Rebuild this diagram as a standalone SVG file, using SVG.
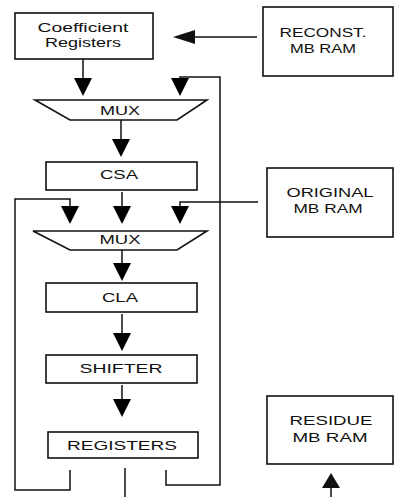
<svg xmlns="http://www.w3.org/2000/svg" width="395" height="497" viewBox="0 0 395 497">
<style>
.box{fill:#fff;stroke:#111;stroke-width:1.6}
.ln{fill:none;stroke:#111;stroke-width:1.5}
.hd{fill:#111;stroke:none}
text{font-family:"Liberation Sans",Arial,sans-serif;font-size:13px;fill:#111;text-anchor:middle}
</style>
<defs>
<polygon id="dn" points="-9,0 9,0 0,18"/>
</defs>
<rect width="395" height="497" fill="#fff"/>
<g id="connectors">
<line class="ln" x1="257" y1="37" x2="192" y2="37"/>
<polygon class="hd" points="173,37 195,30 195,44"/>
<line class="ln" x1="83" y1="59" x2="83" y2="80"/>
<use href="#dn" x="83" y="78"/>
<polyline class="ln" points="166,470 166,485 220,485 220,77 180,77 180,80"/>
<use href="#dn" x="180" y="78"/>
<line class="ln" x1="121" y1="120" x2="121" y2="140"/>
<use href="#dn" x="121" y="139"/>
<polyline class="ln" points="70,470 70,490 15,490 15,199 70,199 70,209"/>
<use href="#dn" x="70" y="206"/>
<line class="ln" x1="122" y1="192" x2="122" y2="209"/>
<use href="#dn" x="122" y="206"/>
<polyline class="ln" points="258,202 180,202 180,209"/>
<use href="#dn" x="180" y="206"/>
<line class="ln" x1="122" y1="250" x2="122" y2="265"/>
<use href="#dn" x="122" y="263"/>
<line class="ln" x1="122" y1="314" x2="122" y2="335"/>
<use href="#dn" x="122" y="333"/>
<line class="ln" x1="122" y1="385" x2="122" y2="400"/>
<use href="#dn" x="122" y="399"/>
<line class="ln" x1="125" y1="468" x2="125" y2="497"/>
<line class="ln" x1="331" y1="497" x2="331" y2="485"/>
<polygon class="hd" points="331,473 322,488 340,488"/>
</g>
<g id="coef">
<rect class="box" x="15" y="13" width="138" height="46"/>
<text x="83" y="32" textLength="91" lengthAdjust="spacingAndGlyphs">Coefficient</text>
<text x="83" y="47" textLength="76" lengthAdjust="spacingAndGlyphs">Registers</text>
</g>
<g id="reconst">
<rect class="box" x="263" y="7" width="130" height="69"/>
<text x="323" y="37" textLength="87" lengthAdjust="spacingAndGlyphs">RECONST.</text>
<text x="323" y="53" textLength="66" lengthAdjust="spacingAndGlyphs">MB RAM</text>
</g>
<g id="mux1">
<polygon class="box" points="35,100 207,100 177,120 70,120"/>
<text x="120" y="115" textLength="40" lengthAdjust="spacingAndGlyphs">MUX</text>
</g>
<g id="csa">
<rect class="box" x="46" y="162" width="151" height="28"/>
<text x="119" y="179" textLength="38" lengthAdjust="spacingAndGlyphs">CSA</text>
</g>
<g id="original">
<rect class="box" x="267" y="168" width="126" height="69"/>
<text x="330" y="197" textLength="87" lengthAdjust="spacingAndGlyphs">ORIGINAL</text>
<text x="328" y="213" textLength="69" lengthAdjust="spacingAndGlyphs">MB RAM</text>
</g>
<g id="mux2">
<polygon class="box" points="33,231 207,231 177,250 70,250"/>
<text x="120" y="244" textLength="41" lengthAdjust="spacingAndGlyphs">MUX</text>
</g>
<g id="cla">
<rect class="box" x="46" y="283" width="151" height="29"/>
<text x="120" y="302" textLength="36" lengthAdjust="spacingAndGlyphs">CLA</text>
</g>
<g id="shifter">
<rect class="box" x="46" y="355" width="151" height="28"/>
<text x="121" y="373" textLength="83" lengthAdjust="spacingAndGlyphs">SHIFTER</text>
</g>
<g id="registers">
<rect class="box" x="48" y="432" width="150" height="26"/>
<text x="122" y="450" textLength="110" lengthAdjust="spacingAndGlyphs">REGISTERS</text>
</g>
<g id="residue">
<rect class="box" x="267" y="396" width="126" height="68"/>
<text x="331" y="425" textLength="83" lengthAdjust="spacingAndGlyphs">RESIDUE</text>
<text x="330" y="442" textLength="75" lengthAdjust="spacingAndGlyphs">MB RAM</text>
</g>
</svg>
